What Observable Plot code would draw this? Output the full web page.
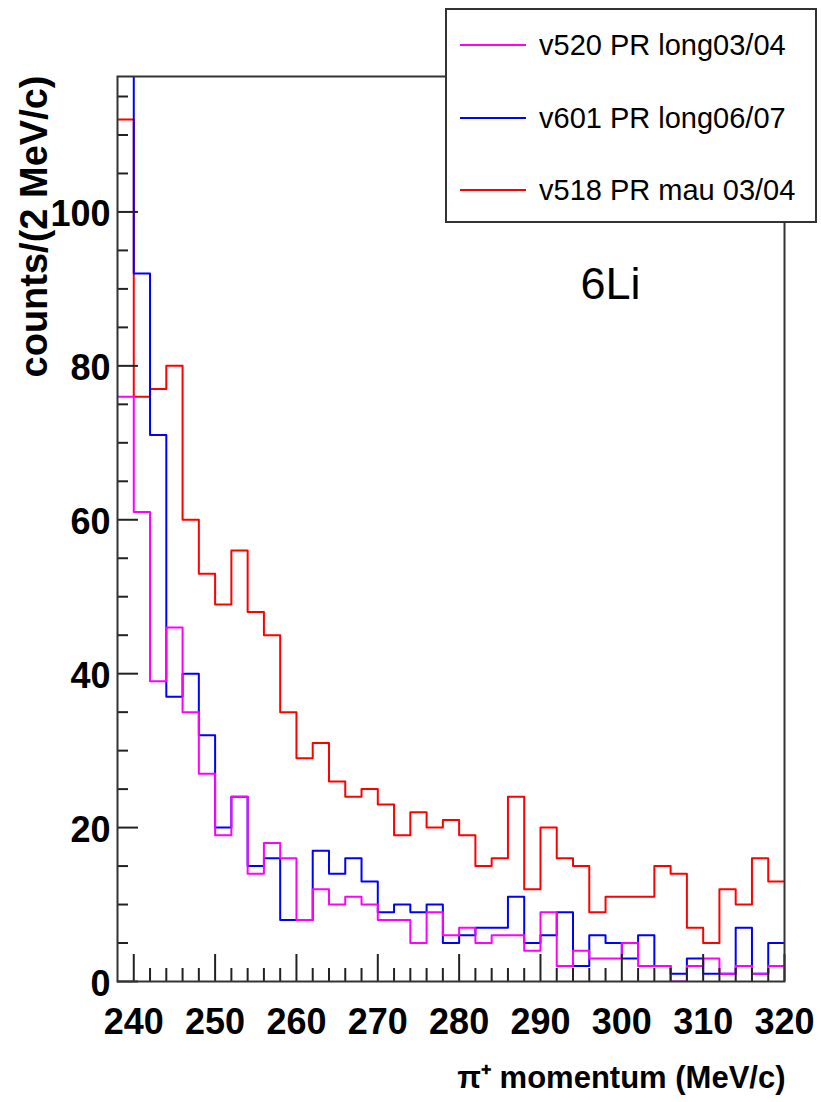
<!DOCTYPE html>
<html>
<head>
<meta charset="utf-8">
<script src="https://cdn.jsdelivr.net/npm/d3@7"></script>
<script src="https://cdn.jsdelivr.net/npm/@observablehq/plot@0.6"></script>
<style>
  body { margin: 0; background: #fff; }
  #wrap { position: relative; width: 821px; height: 1102px; font-family: "Liberation Sans", Arial, Helvetica, sans-serif; }
  #legend { position: absolute; left: 445px; top: 8px; width: 372px; height: 215px; background: #fff; border: 2px solid #333; box-sizing: border-box; }
  .item { position: absolute; left: 0; height: 0; }
  .swatch { position: absolute; left: 13px; top: -1px; width: 66px; height: 0; border-top: 2px solid; }
  .lab { position: absolute; left: 92px; top: 0; transform: translateY(-50%); font-size: 29px; line-height: 1; white-space: nowrap; color: #000; }
</style>
</head>
<body>
<div id="wrap"></div>
<script>
// ---- data (counts per 2 MeV/c bin) ----
const binStart = [238,240,242,244,246,248,250,252,254,256,258,260,262,264,266,268,270,272,274,276,278,280,282,284,286,288,290,292,294,296,298,300,302,304,306,308,310,312,314,316,318];
const binWidth = 2;
const v518mau = [112,76,77,80,60,53,49,56,48,45,35,29,31,26,24,25,23,19,22,20,21,19,15,16,24,12,20,16,15,9,11,11,11,15,14,7,5,12,10,16,13];
const v601long = [125,92,71,37,40,32,20,24,15,16,8,8,17,14,16,13,9,10,9,10,5,6,7,7,11,5,6,9,2,6,5,3,6,2,1,3,1,1,7,1,5];
const v520long = [76,61,39,46,35,27,19,24,14,18,16,8,12,10,11,10,8,8,5,9,6,7,5,6,6,4,9,2,4,3,3,5,2,2,0,2,3,1,2,1,2];
const seriesNames = ["v520 PR long03/04", "v601 PR long06/07", "v518 PR mau 03/04"];
const seriesColors = ["#ff00ff", "#0000ff", "#ff0000"];
const xMajor = [240,250,260,270,280,290,300,310,320];
const xMinor = [242,244,246,248,252,254,256,258,262,264,266,268,272,274,276,278,282,284,286,288,292,294,296,298,302,304,306,308,312,314,316,318];
const yMajor = [0,20,40,60,80,100];
const yMinor = [5,10,15,25,30,35,45,50,55,65,70,75,85,90,95,105,110,115];
const xDomain = [238, 320];
const yDomain = [0, 117.6];
const xTitle = "π⁺ momentum (MeV/c)";
const yTitle = "counts/(2 MeV/c)";
const note = "6Li";

// ---- layout ----
const W = 821, H = 1102, mL = 117, mR = 37, mT = 76, mB = 121;
const frameW = W - mL - mR, frameH = H - mT - mB;
const font = "Liberation Sans, Arial, Helvetica, sans-serif";

function steps(vals) {
  const rows = binStart.map((x, i) => ({x, y: vals[i]}));
  rows.push({x: binStart[binStart.length - 1] + binWidth, y: vals[vals.length - 1]});
  return rows;
}

const chart = Plot.plot({
  width: W, height: H,
  marginLeft: mL, marginRight: mR, marginTop: mT, marginBottom: mB,
  style: {fontFamily: font, background: "white", color: "#000", overflow: "visible"},
  x: {domain: xDomain},
  y: {domain: yDomain},
  marks: [
    Plot.line(steps(v518mau), {x: "x", y: "y", curve: "step-after", stroke: seriesColors[2], strokeWidth: 2, clip: true}),
    Plot.line(steps(v601long), {x: "x", y: "y", curve: "step-after", stroke: seriesColors[1], strokeWidth: 2, clip: true}),
    Plot.line(steps(v520long), {x: "x", y: "y", curve: "step-after", stroke: seriesColors[0], strokeWidth: 2, clip: true}),
    Plot.tickX(xMajor, {x: d => d, insetTop: frameH - 27, stroke: "#222", strokeWidth: 2}),
    Plot.tickX(xMinor, {x: d => d, insetTop: frameH - 13, stroke: "#222", strokeWidth: 2}),
    Plot.tickY(yMajor, {y: d => d, insetRight: frameW - 21, stroke: "#222", strokeWidth: 2}),
    Plot.tickY(yMinor, {y: d => d, insetRight: frameW - 11, stroke: "#222", strokeWidth: 2}),
    Plot.axisX(xMajor, {tickSize: 0, tickPadding: 27, fontSize: 36, fontWeight: "bold", label: null, fill: "#000"}),
    Plot.axisY(yMajor, {tickSize: 0, tickPadding: 7, dy: 3, fontSize: 36, fontWeight: "bold", label: null, fill: "#000"}),
    Plot.frame({stroke: "#333", strokeWidth: 2}),
    Plot.text([yTitle], {frameAnchor: "top-left", rotate: -90, textAnchor: "end", lineAnchor: "middle", dx: -83, dy: -1, fontSize: 38, fontWeight: "bold", fill: "#000"}),
    Plot.text([xTitle], {frameAnchor: "bottom-right", textAnchor: "end", lineAnchor: "bottom", dx: 1, dy: 106, fontSize: 31, fontWeight: "bold", fill: "#000"}),
    Plot.text([note], {frameAnchor: "top-left", textAnchor: "start", lineAnchor: "bottom", dx: 463, dy: 222, fontSize: 45, fill: "#000"})
  ]
});

const wrap = document.getElementById("wrap");
wrap.appendChild(chart);

// legend box (overlaying the top-right of the frame)
const legend = document.createElement("div");
legend.id = "legend";
const rowY = [35, 108, 180];
seriesNames.forEach((name, i) => {
  const item = document.createElement("div");
  item.className = "item";
  item.style.top = rowY[i] + "px";
  item.innerHTML = `<div class="swatch" style="border-color:${seriesColors[i]}"></div><div class="lab">${name}</div>`;
  legend.appendChild(item);
});
wrap.appendChild(legend);
</script>
</body>
</html>
